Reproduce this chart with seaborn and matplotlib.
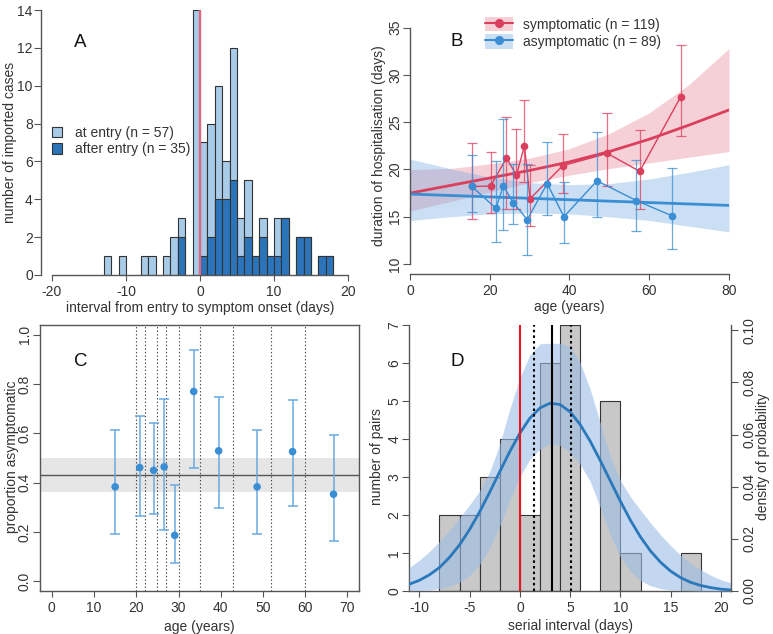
import numpy as np
import pandas as pd
import matplotlib
matplotlib.use("Agg")
import matplotlib.pyplot as plt
from matplotlib.patches import Patch
from matplotlib.lines import Line2D
import seaborn as sns

sns.set_style("ticks")
plt.rcParams['font.family'] = ['Liberation Sans', 'DejaVu Sans']
plt.rcParams['font.size'] = 10
plt.rcParams['axes.unicode_minus'] = False
plt.rcParams['text.color'] = '#333333'
plt.rcParams['axes.labelcolor'] = '#333333'
plt.rcParams['axes.edgecolor'] = '#555555'
plt.rcParams['axes.linewidth'] = 1.0
plt.rcParams['xtick.color'] = '#555555'
plt.rcParams['ytick.color'] = '#555555'
plt.rcParams['xtick.labelcolor'] = '#333333'
plt.rcParams['ytick.labelcolor'] = '#333333'
plt.rcParams['xtick.major.size'] = 4
plt.rcParams['ytick.major.size'] = 5
plt.rcParams['xtick.major.pad'] = 3
plt.rcParams['ytick.major.pad'] = 3
plt.rcParams['xtick.labelsize'] = 10
plt.rcParams['ytick.labelsize'] = 10
plt.rcParams['axes.labelsize'] = 10

# ---- A: interval entry -> symptom onset (1-day bins, left edge)
onset_day = [-13, -11, -8, -7, -5, -4, -3, -1, 0, 1, 2, 3, 4, 5, 6, 7, 8, 9, 10, 11, 13, 14, 16, 17]
n_at_entry = [1, 1, 1, 1, 1, 2, 1, 14, 6, 6, 6, 2, 7, 2, 3, 0, 1, 0, 2, 0, 0, 0, 0, 0]
n_after_entry = [0, 0, 0, 0, 0, 0, 2, 0, 1, 2, 4, 4, 5, 1, 2, 1, 2, 1, 1, 3, 2, 2, 1, 1]

# ---- B: duration of hospitalisation by age
sym_age = [15.5, 20.2, 24.2, 26.7, 28.7, 30.1, 38.3, 49.5, 57.6, 67.9]
sym_dur = [18.2, 18.25, 21.2, 19.4, 22.5, 16.9, 20.4, 21.7, 19.8, 27.7]
sym_lo = [14.8, 15.4, 15.8, 15.8, 18.65, 14.0, 17.5, 18.3, 15.8, 23.5]
sym_hi = [22.8, 21.85, 25.5, 24.3, 27.4, 20.5, 23.8, 25.95, 24.15, 33.2]
asy_age = [15.5, 21.55, 23.4, 25.9, 29.4, 34.4, 38.6, 46.9, 56.8, 65.7]
asy_dur = [18.2, 15.9, 18.25, 16.5, 14.7, 18.5, 15.0, 18.8, 16.7, 15.1]
asy_lo = [15.5, 12.3, 13.6, 14.2, 10.9, 15.15, 12.2, 15.0, 13.5, 11.6]
asy_hi = [21.5, 20.9, 25.3, 20.55, 20.55, 22.9, 18.65, 24.0, 21.0, 20.2]
fit_age = [0, 10, 20, 30, 40, 50, 60, 70, 80]
sym_fit = [17.5, 18.3, 19.1, 19.9, 20.8, 21.9, 23.2, 24.7, 26.3]
sym_fit_lo = [15.6, 16.6, 17.6, 18.6, 19.4, 20.1, 20.7, 21.3, 21.9]
sym_fit_hi = [20.0, 20.1, 20.6, 21.2, 22.2, 23.8, 26.0, 29.0, 32.8]
asy_fit = [17.4, 17.25, 17.1, 16.95, 16.8, 16.65, 16.5, 16.35, 16.2]
asy_fit_lo = [14.6, 15.0, 15.3, 15.4, 15.3, 15.0, 14.6, 14.0, 13.4]
asy_fit_hi = [21.1, 20.1, 19.2, 18.6, 18.4, 18.5, 19.0, 19.7, 20.5]

# ---- C: proportion asymptomatic by age group
age_mid = [15.0, 20.8, 24.1, 26.6, 29.1, 33.6, 39.5, 48.6, 57.0, 66.7]
prop_asym = [0.383, 0.461, 0.450, 0.464, 0.186, 0.770, 0.529, 0.383, 0.526, 0.353]
prop_lo = [0.192, 0.263, 0.272, 0.207, 0.072, 0.461, 0.297, 0.192, 0.306, 0.165]
prop_hi = [0.615, 0.669, 0.642, 0.739, 0.392, 0.939, 0.749, 0.615, 0.737, 0.592]
age_breaks = [20, 22, 25, 27, 30, 35, 43, 52, 60]
overall_prop = [0.43, 0.36, 0.50]   # estimate, lower, upper

# ---- D: serial interval
si_bin_left = [-8, -6, -4, -2, 0, 2, 4, 8, 10, 16]
si_pairs = [2, 2, 3, 4, 2, 6, 7, 5, 1, 1]
si_grid = list(range(-11, 22))
si_density = [0.0026, 0.0041, 0.0062, 0.0090, 0.0129, 0.0177, 0.0236, 0.0304, 0.0379, 0.0458,
              0.0535, 0.0605, 0.0663, 0.0702, 0.0720, 0.0715, 0.0687, 0.0638, 0.0574, 0.0500,
              0.0422, 0.0344, 0.0271, 0.0207, 0.0153, 0.0110, 0.0076, 0.0051, 0.0033, 0.0021,
              0.0013, 0.0007, 0.0004]
si_dens_hi = [0.0090, 0.0118, 0.0151, 0.0190, 0.0233, 0.0281, 0.0330, 0.0384, 0.0457, 0.0563,
              0.0698, 0.0818, 0.0906, 0.0948, 0.0950, 0.0950, 0.0937, 0.0875, 0.0773, 0.0644,
              0.0515, 0.0424, 0.0361, 0.0310, 0.0261, 0.0215, 0.0174, 0.0137, 0.0106, 0.0081,
              0.0060, 0.0043, 0.0031]
si_dens_lo = [0.0001, 0.0002, 0.0004, 0.0009, 0.0018, 0.0034, 0.0060, 0.0102, 0.0165, 0.0250,
              0.0350, 0.0440, 0.0505, 0.0545, 0.0565, 0.0558, 0.0530, 0.0485, 0.0420, 0.0320,
              0.0215, 0.0130, 0.0075, 0.0040, 0.0020, 0.0009, 0.0004, 0.0002, 0.0001, 0.0,
              0.0, 0.0, 0.0]
si_mean = [3.24, 1.42, 5.1]   # mean, lower, upper

light_blue = '#a8cbe8'
dark_blue = '#2b74ba'
red = '#db3f5e'
blue = '#3a8ed4'
edge = '#333333'

W, H = 773, 634
fig = plt.figure(figsize=(W / 100, H / 100), dpi=100)


def box(l, t, r, b):
    return [l / W, 1 - b / H, (r - l) / W, (b - t) / H]


def hide_empty(ax):
    for p in ax.patches:
        if p.get_height() == 0:
            p.set_visible(False)


def yticks(ax, ticks, labels, side='left'):
    ax.set_yticks(ticks, labels=labels, rotation=90, va='center',
                  ha='right' if side == 'left' else 'left')
    if side == 'left':
        ax.tick_params(axis='y', pad=0.8)


def place_labels(ax, xl, yl, ylx=0.5):
    ax.xaxis.set_label_coords(0.5, xl)
    ax.xaxis.label.set_va('center')
    ax.yaxis.set_label_coords(yl, ylx)
    ax.yaxis.label.set_va('center')


# ================= A
axA = fig.add_axes(box(52, 10, 348, 275))
onset = pd.DataFrame({'mid': np.array(onset_day) + 0.5,
                      'total': np.array(n_at_entry) + np.array(n_after_entry),
                      'after': n_after_entry})
sns.histplot(data=onset, x='mid', weights='total', binwidth=1, binrange=(-20, 20), color=light_blue,
             alpha=1, edgecolor=edge, linewidth=0.8, ax=axA)
sns.histplot(data=onset, x='mid', weights='after', binwidth=1, binrange=(-20, 20), color=dark_blue,
             alpha=1, edgecolor=edge, linewidth=0.8, ax=axA)
hide_empty(axA)
axA.plot([0, 0], [0, 14], color='#e5647c', lw=1.6, zorder=5)
axA.set_xlim(-20, 20)
axA.set_ylim(0, 14)
axA.set_xticks([-20, -10, 0, 10, 20])
yticks(axA, range(0, 15, 2), [str(v) for v in range(0, 15, 2)])
axA.spines[['top', 'right']].set_visible(False)
axA.spines['left'].set_position(('outward', 8))
axA.set_xlabel('interval from entry to symptom onset (days)')
axA.set_ylabel('number of imported cases')
place_labels(axA, (275 - 308) / 265, (10 - 52) / 296)
axA.legend(handles=[Patch(facecolor=light_blue, edgecolor=edge, lw=0.8),
                    Patch(facecolor=dark_blue, edgecolor=edge, lw=0.8)],
           labels=['at entry (n = 57)', 'after entry (n = 35)'],
           loc='center left', bbox_to_anchor=(0.0, 0.506), frameon=False,
           borderpad=0, borderaxespad=0, handlelength=0.75, handleheight=0.75,
           handletextpad=0.9, labelspacing=0.2, fontsize=10)

# ================= B
axB = fig.add_axes(box(410, 27.7, 729, 264))
axB.fill_between(fit_age, sym_fit_lo, sym_fit_hi, color='#e8798f', alpha=0.35, lw=0)
axB.fill_between(fit_age, asy_fit_lo, asy_fit_hi, color='#6aa6e2', alpha=0.35, lw=0)
sns.lineplot(x=fit_age, y=sym_fit, color=red, lw=2, ax=axB)
sns.lineplot(x=fit_age, y=asy_fit, color=blue, lw=2, ax=axB)
sym = pd.DataFrame({'age': sym_age, 'dur': sym_dur})
asy = pd.DataFrame({'age': asy_age, 'dur': asy_dur})
for df, lo, hi, c in [(sym, sym_lo, sym_hi, red), (asy, asy_lo, asy_hi, blue)]:
    axB.errorbar(df['age'], df['dur'],
                 yerr=[df['dur'] - np.array(lo), np.array(hi) - df['dur']],
                 fmt='none', ecolor=c, elinewidth=0.9, capsize=3.6, capthick=0.9, alpha=0.75)
    sns.lineplot(data=df, x='age', y='dur', color=c, lw=1, marker='o', markersize=5.5,
                 markeredgewidth=0, ax=axB)
axB.set_xlim(0, 80)
axB.set_ylim(10, 35)
axB.set_xticks([0, 20, 40, 60, 80])
yticks(axB, [10, 15, 20, 25, 30, 35], ['10', '15', '20', '25', '30', '35'])
axB.spines[['top', 'right']].set_visible(False)
axB.spines['bottom'].set_position(('outward', 7.2))
axB.set_xlabel('age (years)')
axB.set_ylabel('duration of hospitalisation (days)')
place_labels(axB, (264 - 307) / 236.3, (379 - 410) / 319)
hs = [(Patch(facecolor='#e8798f', alpha=0.35, lw=0), Line2D([], [], color=red, lw=1.5, marker='o', markersize=5.5)),
      (Patch(facecolor='#6aa6e2', alpha=0.35, lw=0), Line2D([], [], color=blue, lw=1.5, marker='o', markersize=5.5))]
axB.legend(handles=hs, labels=['symptomatic (n = 119)', 'asymptomatic (n = 89)'],
           loc='center left', bbox_to_anchor=(0.235, 0.978), frameon=False,
           borderpad=0, borderaxespad=0, handlelength=2.0, handleheight=1.2,
           handletextpad=0.75, labelspacing=0.2, fontsize=10)

# ================= C
axC = fig.add_axes(box(40, 325, 359.3, 591))
axC.axhspan(overall_prop[1], overall_prop[2], color='#e6e6e6', lw=0, zorder=0)
axC.axhline(overall_prop[0], color='#555555', lw=1)
for b in age_breaks:
    axC.axvline(b, color='#444444', lw=0.8, ls=(0, (1.2, 2)))
pa = np.array(prop_asym)
axC.errorbar(age_mid, pa, yerr=[pa - np.array(prop_lo), np.array(prop_hi) - pa], fmt='none',
             ecolor='#6aa9e0', elinewidth=1.1, capsize=3.6, capthick=1.1)
sns.scatterplot(x=age_mid, y=prop_asym, color=blue, s=30, edgecolor='none', zorder=4, ax=axC)
axC.set_xlim(-2.8, 72.8)
axC.set_ylim(-0.04, 1.04)
axC.set_xticks(range(0, 71, 10))
yticks(axC, [0, 0.2, 0.4, 0.6, 0.8, 1.0], ['0.0', '0.2', '0.4', '0.6', '0.8', '1.0'])
axC.set_xlabel('age (years)')
axC.set_ylabel('proportion asymptomatic')
place_labels(axC, (591 - 627) / 266, (12 - 40) / 319.3, 0.504)

# ================= D
axD = fig.add_axes(box(409.3, 325, 731, 591))
si = pd.DataFrame({'mid': np.array(si_bin_left) + 1, 'pairs': si_pairs})
sns.histplot(data=si, x='mid', weights='pairs', binwidth=2, binrange=(-8, 18),
             color='#c8c8c8', alpha=1, edgecolor=edge, linewidth=0.8, ax=axD)
hide_empty(axD)
axD.set_xlim(-11, 21)
axD.set_ylim(0, 7)
axD.set_xticks(range(-10, 21, 5))
yticks(axD, range(0, 8), [str(v) for v in range(0, 8)])
axD.spines[['top', 'right']].set_visible(False)
axD.set_xlabel('serial interval (days)')
axD.set_ylabel('number of pairs')
place_labels(axD, (591 - 626) / 266, (377 - 409.3) / 321.7, (591 - 457) / 266)
axD2 = axD.twinx()
axD2.fill_between(si_grid, si_dens_lo, si_dens_hi, color='#9cbde6', alpha=0.6, lw=0)
sns.lineplot(x=si_grid, y=si_density, color='#2b78ba', lw=2, ax=axD2)
axD2.axvline(0, color='#e8141e', lw=1.5)
axD2.axvline(si_mean[0], color='black', lw=1.5)
axD2.axvline(si_mean[1], color='black', lw=1.5, ls=(0, (1.2, 1.5)))
axD2.axvline(si_mean[2], color='black', lw=1.5, ls=(0, (1.2, 1.5)))
axD2.set_ylim(0, 0.102)
yticks(axD2, [0, 0.02, 0.04, 0.06, 0.08, 0.10], ['0.00', '0.02', '0.04', '0.06', '0.08', '0.10'],
       side='right')
axD2.spines[['top', 'left', 'bottom']].set_visible(False)
axD2.set_ylabel('density of probability')
axD2.yaxis.set_label_coords((763 - 409.3) / 321.7, (591 - 457) / 266)
axD2.yaxis.label.set_va('center')

for lab, x, y in [('A', 80.7, 42.7), ('B', 456.7, 41.7), ('C', 80.7, 362), ('D', 457.3, 362)]:
    fig.text(x / W, 1 - y / H, lab, ha='center', va='center', fontsize=13.5, color='#111111')

fig.savefig('out.png', dpi=100)
